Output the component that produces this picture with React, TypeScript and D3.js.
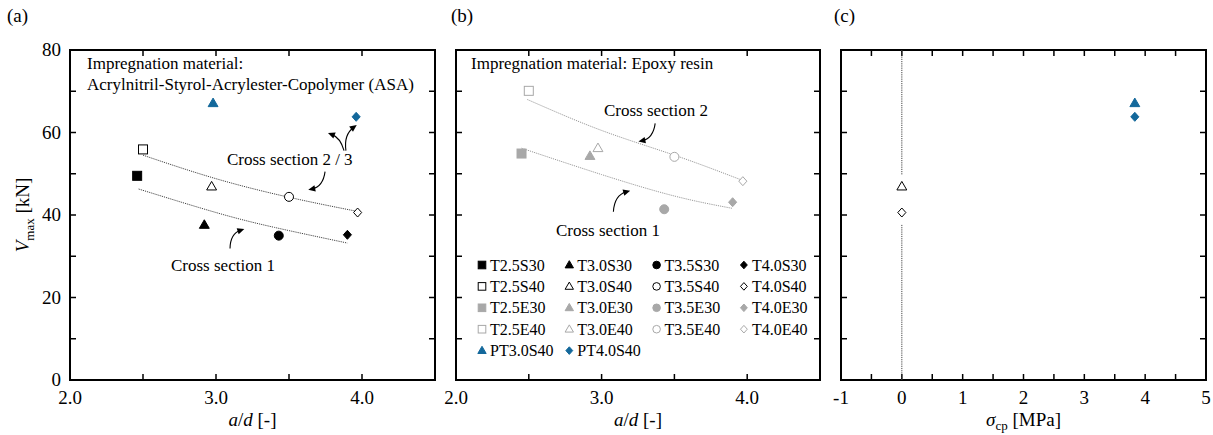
import React from 'react';
import * as d3 from 'd3';

const W = 1213;
const H = 435;
const FONT = '"Liberation Serif", "Times New Roman", serif';

// (a) impregnation with ASA
const aLabels = ['T2.5S30', 'T3.0S30', 'T3.5S30', 'T4.0S30', 'T2.5S40', 'T3.0S40', 'T3.5S40', 'T4.0S40', 'PT3.0S40', 'PT4.0S40'];
const aX = [2.46, 2.92, 3.43, 3.9, 2.5, 2.97, 3.5, 3.97, 2.98, 3.96];
const aY = [49.5, 37.6, 35.0, 35.2, 55.9, 46.9, 44.4, 40.6, 67.1, 63.8];

// (b) impregnation with epoxy resin
const bLabels = ['T2.5E30', 'T3.0E30', 'T3.5E30', 'T4.0E30', 'T2.5E40', 'T3.0E40', 'T3.5E40', 'T4.0E40'];
const bX = [2.45, 2.92, 3.43, 3.9, 2.5, 2.975, 3.5, 3.97];
const bY = [54.9, 54.3, 41.4, 43.1, 70.1, 56.2, 54.1, 48.2];

// (c) prestress
const cLabels = ['T3.0S40', 'T4.0S40', 'PT3.0S40', 'PT4.0S40'];
const cX = [0, 0, 3.83, 3.83];
const cY = [46.9, 40.6, 67.1, 63.8];

// trend curves
const cs23A: [number, number][] = [[2.5, 54.5], [3.0, 48.8], [3.5, 44.3], [3.95, 41.0]];
const cs1A: [number, number][] = [[2.47, 46.3], [3.0, 40.6], [3.4, 37.0], [3.9, 33.2]];
const cs2B: [number, number][] = [[2.49, 68.0], [3.0, 60.5], [3.5, 54.5], [3.96, 48.5]];
const cs1B: [number, number][] = [[2.45, 56.2], [3.0, 49.8], [3.5, 44.6], [3.9, 41.6]];
const zeroLine: [number, number][] = [[80, 49.7], [37.6, 0]];

const vTicks = [0, 10, 20, 30, 40, 50, 60, 70, 80];
const adTicks = [2.0, 2.5, 3.0, 3.5, 4.0];
const sigmaTicks = [-1, -0.5, 0, 0.5, 1, 1.5, 2, 2.5, 3, 3.5, 4, 4.5, 5];

const legendRows = [
  ['T2.5S30', 'T3.0S30', 'T3.5S30', 'T4.0S30'],
  ['T2.5S40', 'T3.0S40', 'T3.5S40', 'T4.0S40'],
  ['T2.5E30', 'T3.0E30', 'T3.5E30', 'T4.0E30'],
  ['T2.5E40', 'T3.0E40', 'T3.5E40', 'T4.0E40'],
  ['PT3.0S40', 'PT4.0S40'],
];

const BLUE = '#13689b';
const GREY = '#a8a8a8';

const TOP = 50;
const BOTTOM = 380;
const yScale = d3.scaleLinear().domain([0, 80]).range([BOTTOM, TOP]);
const xA = d3.scaleLinear().domain([2, 4.5]).range([70, 435]);
const xB = d3.scaleLinear().domain([2, 4.5]).range([456, 820]);
const xC = d3.scaleLinear().domain([-1, 5]).range([841, 1206]);

function shapeOf(label: string) {
  if (label.includes('2.5')) return 'square';
  if (label.includes('3.0')) return 'triangle';
  if (label.includes('3.5')) return 'circle';
  return 'diamond';
}

function styleOf(label: string) {
  if (label.startsWith('PT')) return { fill: BLUE, stroke: BLUE };
  if (label.endsWith('S30')) return { fill: '#000', stroke: '#000' };
  if (label.endsWith('S40')) return { fill: '#fff', stroke: '#000' };
  if (label.endsWith('E30')) return { fill: GREY, stroke: GREY };
  return { fill: '#fff', stroke: GREY };
}

function Marker({ label, cx, cy, r }: { label: string; cx: number; cy: number; r: number }) {
  const shape = shapeOf(label);
  const st = styleOf(label);
  const common = { fill: st.fill, stroke: st.stroke, strokeWidth: 1 };
  if (shape === 'square') return <rect x={cx - r} y={cy - r} width={2 * r} height={2 * r} {...common} />;
  if (shape === 'circle') return <circle cx={cx} cy={cy} r={r} {...common} />;
  if (shape === 'triangle') {
    const h = r * 1.9;
    return <path d={`M${cx},${cy - h * 0.6}L${cx + r * 1.1},${cy + h * 0.4}L${cx - r * 1.1},${cy + h * 0.4}Z`} {...common} />;
  }
  return <path d={`M${cx},${cy - r}L${cx + r * 0.9},${cy}L${cx},${cy + r}L${cx - r * 0.9},${cy}Z`} {...common} />;
}

function Frame({ left, right }: { left: number; right: number }) {
  return <rect x={left} y={TOP} width={right - left} height={BOTTOM - TOP} fill="none" stroke="#000" strokeWidth={2} />;
}

function Ticks({ x, xt, left, right }: { x: d3.ScaleLinear<number, number>; xt: number[]; left: number; right: number }) {
  return (
    <g stroke="#000" strokeWidth={1.5}>
      {vTicks.map(v => (
        <g key={'y' + v}>
          <line x1={left} x2={left + 6} y1={yScale(v)} y2={yScale(v)} />
          <line x1={right} x2={right - 6} y1={yScale(v)} y2={yScale(v)} />
        </g>
      ))}
      {xt.map(v => (
        <g key={'x' + v}>
          <line x1={x(v)} x2={x(v)} y1={BOTTOM} y2={BOTTOM - 6} />
          <line x1={x(v)} x2={x(v)} y1={TOP} y2={TOP + 6} />
        </g>
      ))}
    </g>
  );
}

type Arrow = { from: [number, number]; to: [number, number]; bend: number };

const arrowsA: Arrow[] = [
  { from: [3.877, 55.6], to: [3.767, 59.9], bend: 0.25 },
  { from: [3.89, 55.6], to: [3.964, 61.8], bend: -0.3 },
  { from: [3.747, 50.5], to: [3.632, 46.1], bend: -0.35 },
  { from: [3.096, 31.9], to: [3.194, 36.6], bend: -0.35 },
];
const arrowsB: Arrow[] = [
  { from: [3.368, 62.2], to: [3.253, 57.8], bend: -0.35 },
  { from: [3.081, 40.8], to: [3.196, 45.9], bend: -0.35 },
];

function CurvedArrow({ a, x }: { a: Arrow; x: d3.ScaleLinear<number, number> }) {
  const sx = x(a.from[0]), sy = yScale(a.from[1]);
  const ex = x(a.to[0]), ey = yScale(a.to[1]);
  const dx = ex - sx, dy = ey - sy;
  const len = Math.hypot(dx, dy);
  const nx = -dy / len, ny = dx / len;
  const qx = (sx + ex) / 2 + nx * len * a.bend;
  const qy = (sy + ey) / 2 + ny * len * a.bend;
  const tx = ex - qx, ty = ey - qy;
  const tl = Math.hypot(tx, ty);
  const ux = tx / tl, uy = ty / tl;
  const hl = 7, hw = 3.2;
  const bx = ex - ux * hl, by = ey - uy * hl;
  const p = d3.path();
  p.moveTo(sx, sy);
  p.quadraticCurveTo(qx, qy, ex - ux * 4, ey - uy * 4);
  return (
    <g>
      <path d={p.toString()} fill="none" stroke="#000" strokeWidth={1.1} />
      <path d={`M${ex},${ey}L${bx - uy * hw},${by + ux * hw}L${bx + uy * hw},${by - ux * hw}Z`} fill="#000" />
    </g>
  );
}

function TrendLine({ pts, x, color }: { pts: [number, number][]; x: d3.ScaleLinear<number, number>; color: string }) {
  const line = d3.line<[number, number]>().x(d => x(d[0])).y(d => yScale(d[1])).curve(d3.curveNatural);
  return <path d={line(pts) || ''} fill="none" stroke={color} strokeWidth={1} strokeDasharray="1.2,1" />;
}

function XLabels({ x, ticks, fmt }: { x: d3.ScaleLinear<number, number>; ticks: number[]; fmt: (v: number) => string }) {
  return (
    <g fontSize={19} textAnchor="middle">
      {ticks.map(v => (
        <text key={v} x={x(v)} y={404}>{fmt(v)}</text>
      ))}
    </g>
  );
}

export default function App() {
  const legendX0 = 482;
  const legendDX = 87.3;
  const legendY0 = 265;
  const legendDY = 21.4;

  return (
    <svg width={W} height={H} style={{ position: 'absolute', left: 0, top: 0, background: '#fff' }} fontFamily={FONT}>
      {/* panel labels */}
      <g fontSize={19}>
        <text x={7} y={22}>(a)</text>
        <text x={451} y={22}>(b)</text>
        <text x={834} y={22}>(c)</text>
      </g>

      {/* ---------- (a) ---------- */}
      <Ticks x={xA} xt={adTicks} left={70} right={435} />
      <Frame left={70} right={435} />
      <g fontSize={19} textAnchor="end">
        {vTicks.filter(v => v % 20 === 0).map(v => (
          <text key={v} x={61} y={yScale(v) + 6}>{v}</text>
        ))}
      </g>
      <text transform={`translate(29,${(TOP + BOTTOM) / 2}) rotate(-90)`} fontSize={19} textAnchor="middle">
        <tspan fontStyle="italic">V</tspan>
        <tspan fontSize={13} dy={5}>max</tspan>
        <tspan dy={-5}> [kN]</tspan>
      </text>
      <XLabels x={xA} ticks={[2, 3, 4]} fmt={d3.format('.1f')} />
      <text x={(70 + 435) / 2} y={426} fontSize={19} textAnchor="middle">
        <tspan fontStyle="italic">a</tspan>/<tspan fontStyle="italic">d</tspan> [-]
      </text>
      <TrendLine pts={cs23A} x={xA} color="#444" />
      <TrendLine pts={cs1A} x={xA} color="#444" />
      {aLabels.map((l, i) => <Marker key={l} label={l} cx={xA(aX[i])} cy={yScale(aY[i])} r={4.5} />)}
      {arrowsA.map((a, i) => <CurvedArrow key={i} a={a} x={xA} />)}
      <g fontSize={17}>
        <text x={87} y={69}>Impregnation material:</text>
        <text x={87} y={90}>Acrylnitril-Styrol-Acrylester-Copolymer (ASA)</text>
        <text x={227} y={165}>Cross section 2 / 3</text>
        <text x={171} y={271}>Cross section 1</text>
      </g>

      {/* ---------- (b) ---------- */}
      <Ticks x={xB} xt={adTicks} left={456} right={820} />
      <Frame left={456} right={820} />
      <XLabels x={xB} ticks={[2, 3, 4]} fmt={d3.format('.1f')} />
      <text x={(456 + 820) / 2} y={426} fontSize={19} textAnchor="middle">
        <tspan fontStyle="italic">a</tspan>/<tspan fontStyle="italic">d</tspan> [-]
      </text>
      <TrendLine pts={cs2B} x={xB} color="#9a9a9a" />
      <TrendLine pts={cs1B} x={xB} color="#9a9a9a" />
      {bLabels.map((l, i) => <Marker key={l} label={l} cx={xB(bX[i])} cy={yScale(bY[i])} r={4.5} />)}
      {arrowsB.map((a, i) => <CurvedArrow key={i} a={a} x={xB} />)}
      <g fontSize={17}>
        <text x={471} y={69}>Impregnation material: Epoxy resin</text>
        <text x={604} y={116}>Cross section 2</text>
        <text x={556} y={236}>Cross section 1</text>
      </g>
      <g fontSize={16}>
        {legendRows.map((row, ri) =>
          row.map((l, ci) => {
            const mx = legendX0 + ci * legendDX;
            const my = legendY0 + ri * legendDY;
            return (
              <g key={l}>
                <Marker label={l} cx={mx} cy={my} r={3.8} />
                <text x={mx + 8} y={my + 5.5}>{l}</text>
              </g>
            );
          })
        )}
      </g>

      {/* ---------- (c) ---------- */}
      <Ticks x={xC} xt={sigmaTicks} left={841} right={1206} />
      <Frame left={841} right={1206} />
      <XLabels x={xC} ticks={[-1, 0, 1, 2, 3, 4, 5]} fmt={v => String(v)} />
      <text x={(841 + 1206) / 2} y={426} fontSize={19} textAnchor="middle">
        <tspan fontStyle="italic">σ</tspan>
        <tspan fontSize={13} dy={4}>cp</tspan>
        <tspan dy={-4}> [MPa]</tspan>
      </text>
      {zeroLine.map((s, i) => (
        <line key={i} x1={xC(0)} x2={xC(0)} y1={yScale(s[0])} y2={yScale(s[1])} stroke="#444" strokeWidth={1} strokeDasharray="1.2,1" />
      ))}
      {cLabels.map((l, i) => <Marker key={l} label={l} cx={xC(cX[i])} cy={yScale(cY[i])} r={4.5} />)}
    </svg>
  );
}
